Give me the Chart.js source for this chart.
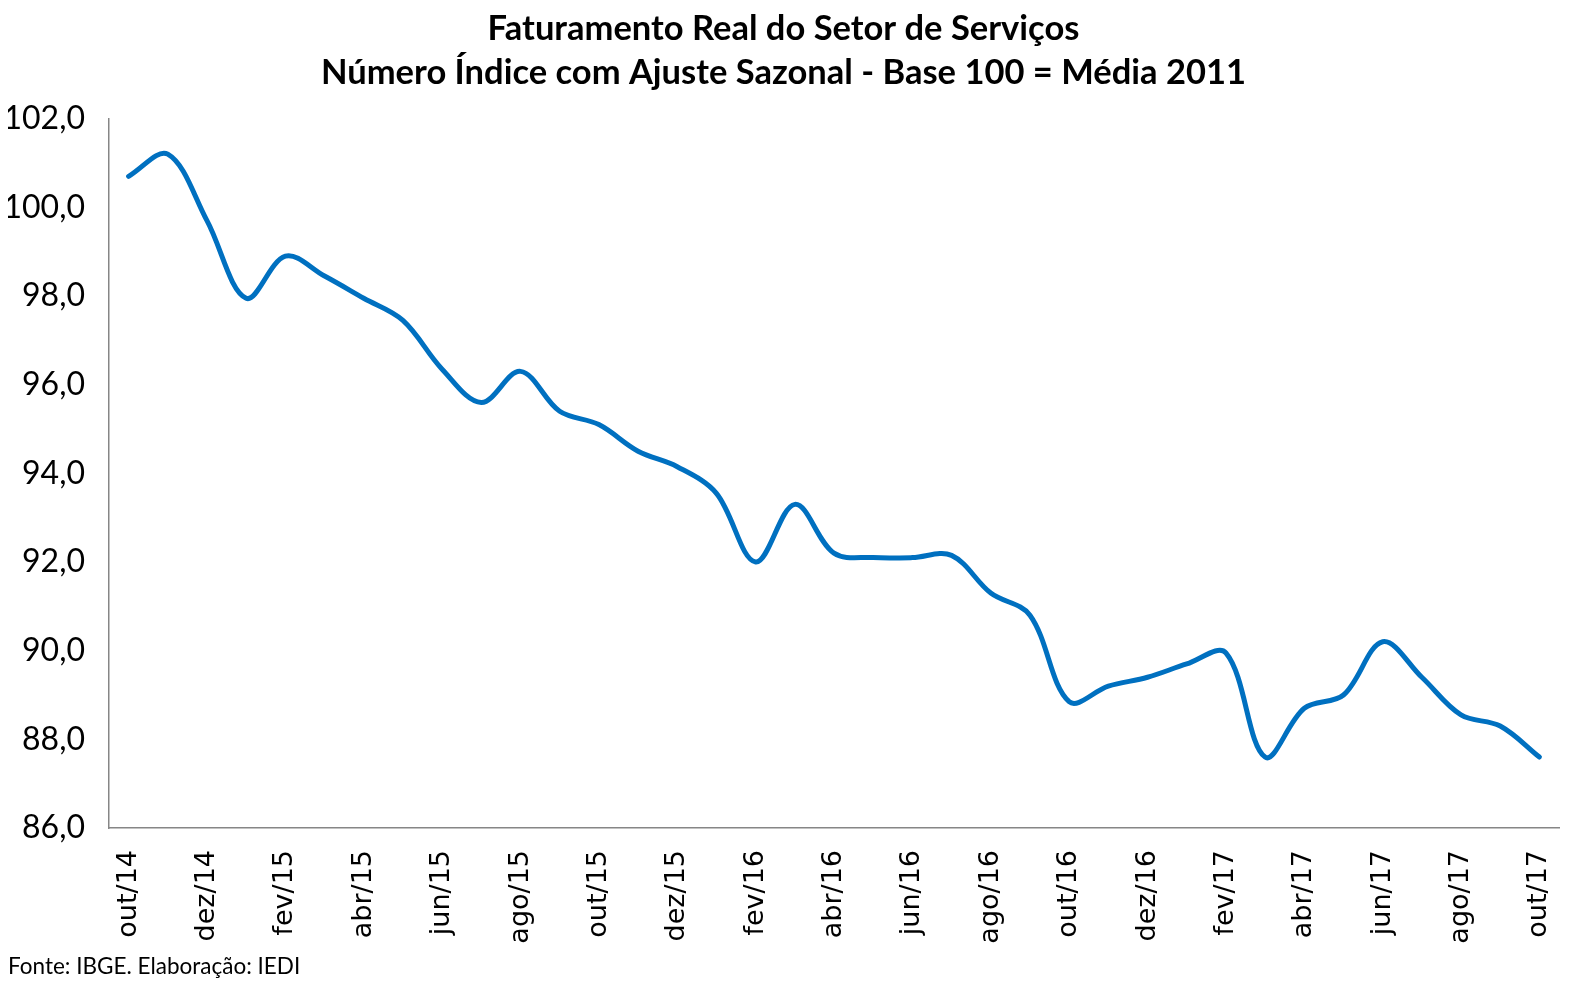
<!DOCTYPE html>
<html>
<head>
<meta charset="utf-8">
<script src="https://cdn.jsdelivr.net/npm/chart.js@4"></script>
<style>
  html, body { margin: 0; padding: 0; background: #fff; }
  #wrap { width: 1580px; height: 985px; }
</style>
</head>
<body>
<div id="wrap"><canvas id="chart" width="1580" height="985"></canvas></div>
<script>
// Faturamento real do setor de servicos, indice com ajuste sazonal (base 100 = media 2011)
const MONTHS = [
  'out/14', 'nov/14', 'dez/14', 'jan/15', 'fev/15', 'mar/15', 'abr/15', 'mai/15', 'jun/15',
  'jul/15', 'ago/15', 'set/15', 'out/15', 'nov/15', 'dez/15', 'jan/16', 'fev/16', 'mar/16',
  'abr/16', 'mai/16', 'jun/16', 'jul/16', 'ago/16', 'set/16', 'out/16', 'nov/16', 'dez/16',
  'jan/17', 'fev/17', 'mar/17', 'abr/17', 'mai/17', 'jun/17', 'jul/17', 'ago/17', 'set/17',
  'out/17'
];

const INDEX_VALUES = [
  100.7, 101.2, 99.7, 97.95, 98.9, 98.45, 97.95, 97.45, 96.35,
  95.6, 96.3, 95.4, 95.1, 94.5, 94.15, 93.55, 92.0, 93.3,
  92.2, 92.1, 92.1, 92.15, 91.3, 90.8, 88.85, 89.2, 89.4,
  89.7, 89.95, 87.6, 88.7, 89.0, 90.2, 89.4, 88.55, 88.3,
  87.6
];

const Y_MIN = 86;
const Y_MAX = 102;
const Y_STEP = 2;

const TITLE_LINES = [
  'Faturamento Real do Setor de Serviços',
  'Número Índice com Ajuste Sazonal - Base 100 = Média 2011'
];
const SOURCE_NOTE = 'Fonte: IBGE. Elaboração: IEDI';

const AXIS_GRAY = '#868686';
const LINE_BLUE = '#0070C0';

new Chart(document.getElementById('chart'), {
  type: 'line',
  data: {
    labels: MONTHS,
    datasets: [{
      label: 'Índice',
      data: INDEX_VALUES,
      borderColor: LINE_BLUE,
      backgroundColor: LINE_BLUE,
      borderWidth: 5,
      pointRadius: 0,
      tension: 0.35,
      fill: false,
      borderCapStyle: 'round'
    }]
  },
  options: {
    responsive: false,
    animation: false,
    layout: { padding: { left: 8, right: 21, top: 0, bottom: 0 } },
    plugins: {
      legend: { display: false },
      tooltip: { enabled: false },
      title: {
        display: true,
        text: TITLE_LINES,
        color: '#000',
        font: { family: 'Lato', size: 34.5, weight: 'bold', lineHeight: 1.3 },
        padding: { top: 6, bottom: 23 }
      },
      subtitle: {
        display: true,
        position: 'bottom',
        align: 'start',
        text: SOURCE_NOTE,
        color: '#000',
        font: { family: 'Lato', size: 22.5, lineHeight: 1.2 },
        padding: { top: 0, bottom: 5 }
      }
    },
    scales: {
      x: {
        offset: true,
        grid: { display: false, drawTicks: false },
        border: { display: true, color: AXIS_GRAY, width: 1.5 },
        ticks: {
          autoSkip: false,
          minRotation: 90,
          maxRotation: 90,
          padding: 22,
          color: '#000',
          font: { family: 'DejaVu Sans, Verdana, sans-serif', size: 27 },
          callback: function (val, i) {
            return i % 2 === 0 ? this.getLabelForValue(val) : '';
          }
        },
        afterFit: function (scale) {
          scale.height = 125;
          // keep the plot area width fixed; labels are narrow when rotated
          scale.paddingLeft = 0;
          scale.paddingRight = 0;
        }
      },
      y: {
        min: Y_MIN,
        max: Y_MAX,
        grid: { display: false, drawTicks: false },
        border: { display: true, color: AXIS_GRAY, width: 1.5 },
        ticks: {
          stepSize: Y_STEP,
          padding: 24,
          color: '#000',
          font: { family: 'Lato', size: 32 },
          callback: v => v.toFixed(1).replace('.', ',')
        },
        afterFit: function (scale) { scale.width = 101; }
      }
    }
  }
});
</script>
</body>
</html>
